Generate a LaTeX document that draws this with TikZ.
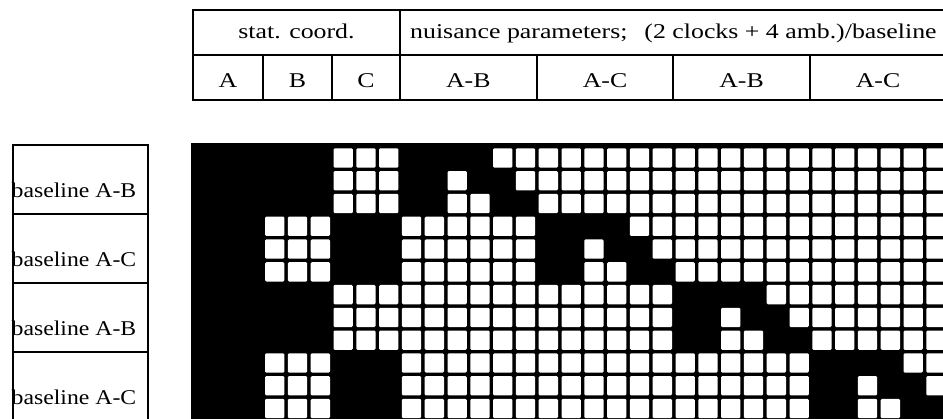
\documentclass[tikz,border=0pt]{standalone}
\usepackage{fontspec}
\setmainfont{Liberation Serif}
\newfontfamily\hdrfont[FakeStretch=1.23]{Liberation Serif}
\newfontfamily\blfont[FakeStretch=1.13]{Liberation Serif}
\tikzset{
  rule/.style={line width=2.2pt, line cap=rect},
  hdrtext/.style={anchor=base, inner sep=0pt, font=\hdrfont\fontsize{21}{25}\selectfont},
  bltext/.style={anchor=base west, inner sep=0pt, font=\blfont\fontsize{21}{25}\selectfont},
  cell/.style={fill=white, rounded corners=1.2pt}
}
\begin{document}
\begin{tikzpicture}[x=1pt, y=-1pt]
\useasboundingbox (0,0) rectangle (943,418);
\clip (0,0) rectangle (943,418);

% header table
\draw[rule] (193,10) rectangle (960,100);
\draw[rule] (193,55) -- (960,55);
\draw[rule] (400,10) -- (400,100);
\foreach \x in {263.3,331.6,536.6,673.2,809.8}
  \draw[rule] (\x,55) -- (\x,100);
\node[hdrtext] (stat) at (296.5,38.5) {stat. coord.};
\node[hdrtext, anchor=base west] (nuis) at (410,38.5)
  {nuisance parameters;\hspace{0.5em} (2 clocks + 4 amb.)/baseline};
\foreach \name/\txt/\x in {sA/A/228, sB/B/297.5, sC/C/366, nAB/A-B/468.3,
                           nAC/A-C/605, nABb/A-B/741.5, nACb/A-C/878}
  \node[hdrtext] (\name) at (\x,87.3) {\txt};

% baseline boxes
\draw[rule] (13,145) rectangle (148,430);
\foreach \y in {214,283,352}
  \draw[rule] (13,\y) -- (148,\y);
\foreach \k/\txt in {0/A-B, 1/A-C, 2/A-B, 3/A-C}
  \node[bltext] (bl\k) at (11.5,{197+69*\k}) {baseline \txt};

% design matrix: black = nonzero
\fill[black] (190.7,142.7) rectangle (960,430);
\foreach \r in {0,...,11}{
  \pgfmathtruncatemacro\blk{floor(\r/3)}
  \pgfmathtruncatemacro\sub{\r-3*\blk}
  \foreach \c in {0,...,32}{
    \pgfmathtruncatemacro\grp{floor((\c-9)/6)}
    \pgfmathtruncatemacro\idx{\c-9-6*\grp}
    \pgfmathtruncatemacro\isw{(\c>2 && \c<6 && mod(\blk,2)==1)
      || (\c>5 && \c<9 && mod(\blk,2)==0)
      || (\c>8 && (\grp!=\blk || (\idx>1 && (\idx<\sub+2 || \idx>\sub+3))))}
    \ifnum\isw=1
      \fill[cell] ({196.7+22.8*\c},{148.3+22.78*\r}) rectangle +(19.3,19.3);
    \fi
  }
}
\end{tikzpicture}
\end{document}
